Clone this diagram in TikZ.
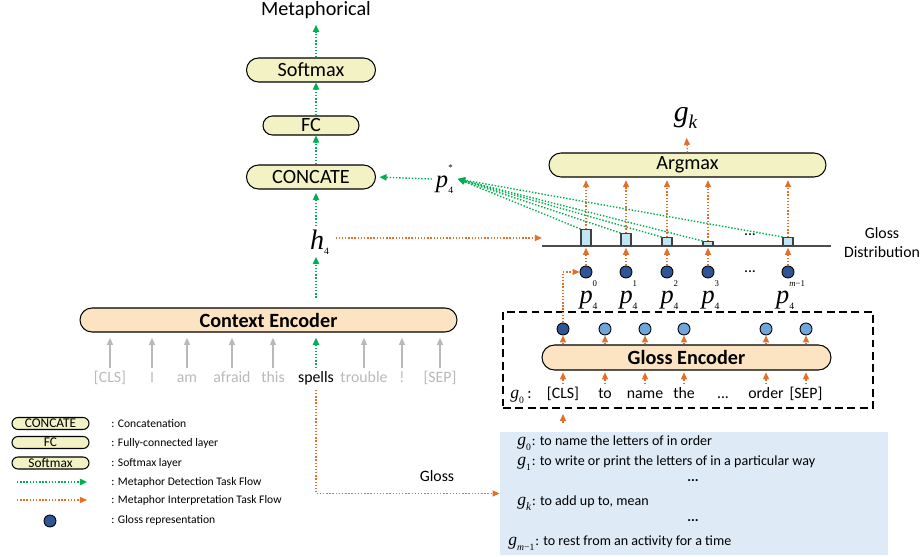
\documentclass[tikz,border=0pt]{standalone}
\usepackage{fontspec}
\setmainfont{Carlito}
\newfontfamily\tms{Liberation Serif}
\usepackage{tikz}
\usetikzlibrary{arrows.meta,positioning,calc,shapes.misc}

\definecolor{detgreen}{RGB}{0,176,80}
\definecolor{intorange}{RGB}{226,112,42}
\definecolor{layerfill}{RGB}{242,242,196}
\definecolor{encfill}{RGB}{252,228,194}
\definecolor{repblue}{RGB}{47,85,151}
\definecolor{tokblue}{RGB}{108,166,218}
\definecolor{barfill}{RGB}{190,230,245}
\definecolor{listfill}{RGB}{222,235,247}
\definecolor{tokgray}{RGB}{185,185,185}

\newcommand{\isym}[1]{\mbox{\tms\itshape #1}}
\newcommand{\tsub}[1]{\mbox{\tms\fontsize{5.5}{5.5}\selectfont #1}}
\newcommand{\tsubi}[1]{\mbox{\tms\itshape\fontsize{#1}{#1}\selectfont k}}
\newcommand{\tsup}[1]{\raisebox{4.5pt}{\tms\fontsize{5}{5}\selectfont #1}}
\newcommand{\gsym}[1]{{\fontsize{10}{10}\selectfont$\isym{g}_{\tsub{#1}}$}}

\begin{document}
\begin{tikzpicture}[x=0.2mm, y=-0.2mm,
  layer/.style={rounded rectangle, draw, line width=0.6pt, fill=layerfill,
    minimum height=4.8mm, inner sep=0pt, font=\fontsize{11.5}{13}\selectfont},
  encoder/.style={layer, fill=encfill, font=\fontsize{11.5}{13}\selectfont\bfseries},
  tok/.style={inner sep=1pt, text height=7pt, text depth=2pt,
    font=\fontsize{9}{10}\selectfont},
  detflow/.style={detgreen, densely dotted, line width=0.8pt,
    -{Triangle[length=4pt,width=3.6pt]}},
  intflow/.style={intorange, densely dotted, line width=0.8pt,
    -{Triangle[length=4pt,width=3.4pt]}},
  ctxin/.style={tokgray, line width=0.8pt, -{Triangle[length=4pt,width=3.4pt]}},
  rep/.style={circle, draw, line width=0.5pt, fill=repblue,
    minimum size=2.4mm, inner sep=0pt},
  bar/.style={draw=black!75, line width=0.6pt, fill=barfill,
    minimum width=2mm, inner sep=0pt, anchor=south},
  plbl/.style={inner sep=0pt, font=\fontsize{15}{15}\selectfont},
  glline/.style={anchor=west, inner sep=0pt, font=\fontsize{8}{9}\selectfont},
  legtxt/.style={anchor=west, inner sep=0pt, font=\fontsize{6.6}{7}\selectfont},
  legbox/.style={layer, minimum width=15.4mm, minimum height=2.4mm,
    font=\fontsize{7.6}{8}\selectfont},
]
  \useasboundingbox (0,0) rectangle (923,557);

  % detection branch
  \coordinate (col) at (316,0);
  \node[font=\fontsize{11.5}{13}\selectfont] (met) at (316,10) {Metaphorical};
  \node[layer, minimum width=25.8mm] (soft) at (311,70) {Softmax};
  \node[layer, minimum width=19.2mm, minimum height=3.8mm] (fc) at (311,125.5) {FC};
  \node[layer, minimum width=25.8mm] (cat) at (311,177) {CONCATE};
  \node[plbl, font=\fontsize{16}{16}\selectfont] (h4) at (320,242) {$\isym{h}_{\tsub{4}}$};
  \node[plbl, inner sep=2pt, font=\fontsize{14}{14}\selectfont] (p4s) at (445,179)
    {$\isym{p}_{\tsub{4}}^{\tsup{*}}$};

  \draw[detflow] (soft.north -| col) -- (met.south -| col);
  \draw[detflow] (fc.north -| col) -- (soft.south -| col);
  \draw[detflow] (cat.north -| col) -- (fc.south -| col);
  \draw[detflow, shorten <=2pt, shorten >=2pt] (h4.north -| col) -- (cat.south -| col);
  \draw[detflow, shorten >=2pt] (p4s.west) -- (cat.east);

  % context encoder
  \node[encoder, minimum width=75.4mm] (ctx) at (268.5,320) {Context Encoder};
  \draw[detflow, shorten <=5.5pt, shorten >=1.5pt] (ctx.north -| col) -- (h4.south -| col);
  \foreach \i/\x/\word in {1/110/[CLS], 2/152/I, 3/187/am, 4/232/afraid, 5/273/this,
      7/364/trouble, 8/402/!, 9/440/[SEP]} {
    \node[tok, tokgray] (t\i) at (\x,378) {\word};
    \draw[ctxin, shorten >=3pt] (t\i.north) -- (t\i.north |- ctx.south);
  }
  \node[tok] (t6) at (316,378) {spells};
  \draw[detflow, shorten >=3pt] (t6.north) -- (t6.north |- ctx.south);

  % gloss distribution
  \node[plbl, font=\fontsize{17}{17}\selectfont] (gk) at (686,118) {$\isym{g}_{\tsubi{11}}$};
  \node[layer, minimum width=55.4mm] (argmax) at (687.5,165) {Argmax};
  \draw[intflow, shorten >=5pt] (argmax.north) -- (gk.south);

  \coordinate (ax0) at (542,246);
  \coordinate (ax1) at (831,246);
  \draw[black!70, line width=0.8pt] (ax0) -- (ax1);

  \foreach \i/\x/\h in {0/586/3.2, 1/626/2.4, 2/667/1.6, 3/708/0.8, m/788/1.6} {
    \node[bar, minimum height=\h mm] (b\i) at (\x,246) {};
    \node[rep] (p\i) at (\x,272) {};
    \draw[intflow, shorten >=1pt] (p\i) -- (b\i.south);
    \draw[intflow, shorten >=1.5pt] (b\i.north) -- (b\i.north |- argmax.south);
    \draw[detflow] (b\i.north west) -- (p4s.east);
  }
  \foreach \i/\x/\s in {0/586/0, 1/626/1, 2/667/2, 3/708/3, m/788/{\itshape m}\textminus1}
    \node[plbl] (l\i) at (\x+3,295) {$\isym{p}_{\tsub{4}}^{\tsup{\s}}$};

  \node[font=\fontsize{9}{10}\selectfont] (dd0) at (750,235) {...};
  \node[font=\fontsize{9}{10}\selectfont] (dd1) at (750,272) {...};
  \node[align=center, font=\fontsize{9}{10.8}\selectfont] (gd) at (882,243)
    {Gloss\\Distribution};

  % h4 to gloss distribution
  \draw[intflow, shorten <=3pt] ([yshift=2.3pt]h4.east) -- ([yshift=2.3pt]h4.east -| ax0);

  % gloss encoder
  \node[draw, dash pattern=on 4.5pt off 2.5pt, line width=0.7pt, minimum width=74mm,
    minimum height=19.2mm, inner sep=0pt] (gfr) at (688,360) {};
  \node[encoder, minimum width=57.8mm, minimum height=5mm] (genc) at (686.5,357.5)
    {Gloss Encoder};
  \node[tok] (g0lbl) at (521,394) {\gsym{0}\,:};
  \foreach \i/\x/\word/\fc in {0/563/[CLS]/repblue, 1/605/to/tokblue, 2/645/name/tokblue,
      3/684/the/tokblue, 4/766/order/tokblue, 5/806/[SEP]/tokblue} {
    \node[tok] (w\i) at (\x,394) {\word};
    \node[rep, fill=\fc] (c\i) at (\x,329) {};
    \draw[intflow, shorten >=1pt] (w\i.north) -- (w\i.north |- genc.south);
    \draw[intflow] (c\i |- genc.north) -- (c\i);
  }
  \node[tok] (wd) at (723,394) {...};
  \draw[intflow] (c0.north) |- (p0.west);

  % gloss list
  \node[fill=listfill, minimum width=77.6mm, minimum height=24.6mm, inner sep=0pt]
    (glist) at (694,493.5) {};
  \draw[intflow, shorten <=5pt, shorten >=3pt] (glist.north -| c0) -- (gfr.south -| c0);
  \node[glline] (gl0) at (517,443) {\gsym{0}: to name the letters of in order};
  \node[glline] (gl1) at (517,463) {\gsym{1}: to write or print the letters of in a particular way};
  \node[font=\fontsize{8}{9}\selectfont] (gdots0) at (693,481) {\textbf{...}};
  \node[glline] (glk) at (517,503) {{\fontsize{10}{10}\selectfont$\isym{g}_{\tsubi{6.5}}$}: to add up to, mean};
  \node[font=\fontsize{8}{9}\selectfont] (gdots1) at (693,521) {\textbf{...}};
  \node[glline] (glm) at (508,543)
    {{\fontsize{10}{10}\selectfont$\isym{g}_{\mbox{\tms\fontsize{5.5}{5.5}\selectfont\itshape m\upshape\textminus1}}$}: to rest from an activity for a time};

  \draw[intflow, shorten <=1pt] (t6.south) |- (glist.west);
  \node[font=\fontsize{9}{10}\selectfont] (glbl) at (437,476) {Gloss};

  % legend
  \node[legbox] (lgcat) at (50.5,423.5) {CONCATE};
  \node[legbox] (lgfc) at (50.5,442.5) {FC};
  \node[legbox] (lgsoft) at (50.5,463) {Softmax};
  \coordinate (lgd0) at (17,482);
  \coordinate (lgd1) at (87,482);
  \draw[detflow] (lgd0) -- (lgd1);
  \coordinate (lgi0) at (17,500);
  \coordinate (lgi1) at (87,500);
  \draw[intflow] (lgi0) -- (lgi1);
  \node[rep] (lgrep) at (50,521) {};

  \node[legtxt] (lt0) at (111,424) {: Concatenation};
  \node[legtxt] (lt1) at (111,443) {: Fully-connected layer};
  \node[legtxt] (lt2) at (111,463) {: Softmax layer};
  \node[legtxt] (lt3) at (111,482) {: Metaphor Detection Task Flow};
  \node[legtxt] (lt4) at (111,500) {: Metaphor Interpretation Task Flow};
  \node[legtxt] (lt5) at (111,520) {: Gloss representation};
\end{tikzpicture}
\end{document}
